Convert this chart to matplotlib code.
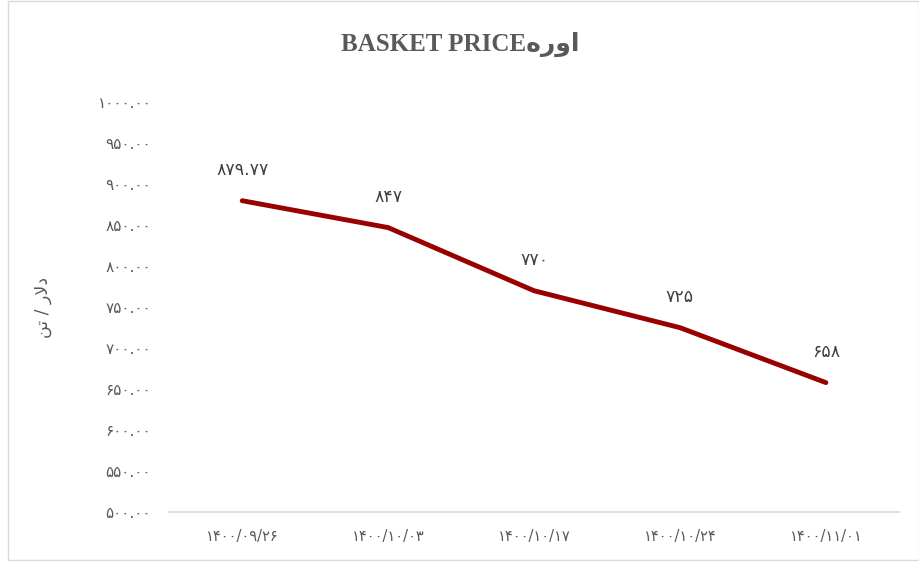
import matplotlib
matplotlib.use("Agg")
import matplotlib.pyplot as plt
from matplotlib.patches import Rectangle

# data (dates in Persian calendar, price in USD/ton)
dates = ["۱۴۰۰/۰۹/۲۶", "۱۴۰۰/۱۰/۰۳", "۱۴۰۰/۱۰/۱۷", "۱۴۰۰/۱۰/۲۴", "۱۴۰۰/۱۱/۰۱"]
prices = [879.77, 847, 770, 725, 658]
yticks = [500, 550, 600, 650, 700, 750, 800, 850, 900, 950, 1000]

title = "BASKET PRICE" + "هروا"  # "اوره" in visual order
ylab = "\ufee6\ufe97 / \u0631\ufefb\u062f"  # "دلار / تن" shaped, visual order

FA = str.maketrans("0123456789", "۰۱۲۳۴۵۶۷۸۹")
def fa(s):
    return s.translate(FA)

grey = "#595959"

fig = plt.figure(figsize=(9.2, 5.61), dpi=100)
ax = fig.add_axes([0.184, 0.087, 0.793, 0.731])

x = range(len(dates))
ax.plot(x, prices, color="#990000", lw=3.5, solid_capstyle="round", solid_joinstyle="round")
for i, v in enumerate(prices):
    ax.annotate(fa(f"{v:g}"), (i, v), xytext=(0, 22), textcoords="offset points",
                ha="center", va="center", fontsize=12.5, color="#404040", family="DejaVu Sans")

ax.set_xlim(-0.5, len(dates) - 0.5)
ax.set_ylim(500, 1000)
ax.set_xticks(list(x))
ax.set_xticklabels(dates, family="DejaVu Sans", fontsize=10.5, color=grey)
ax.set_yticks(yticks)
ax.set_yticklabels([fa(f"{t:.2f}") for t in yticks], family="DejaVu Sans", fontsize=11, color=grey)
ax.tick_params(axis="both", length=0)
ax.tick_params(axis="y", pad=13)
ax.tick_params(axis="x", pad=12)

for s in ["top", "right", "left"]:
    ax.spines[s].set_visible(False)
ax.spines["bottom"].set_color("#d9d9d9")
ax.spines["bottom"].set_linewidth(1.2)

ax.set_ylabel(ylab, family="DejaVu Sans", fontsize=12.5, color=grey, labelpad=33)

fig.text(0.5, 0.92, title, ha="center", va="center", fontsize=18, fontweight="bold",
         color=grey, family=["Liberation Serif", "DejaVu Sans"])

# chart border
fig.patches.append(Rectangle((0.009, 0.002), 0.99, 0.996, transform=fig.transFigure,
                             fill=False, edgecolor="#d9d9d9", lw=1))

fig.savefig("out.png", dpi=100)
